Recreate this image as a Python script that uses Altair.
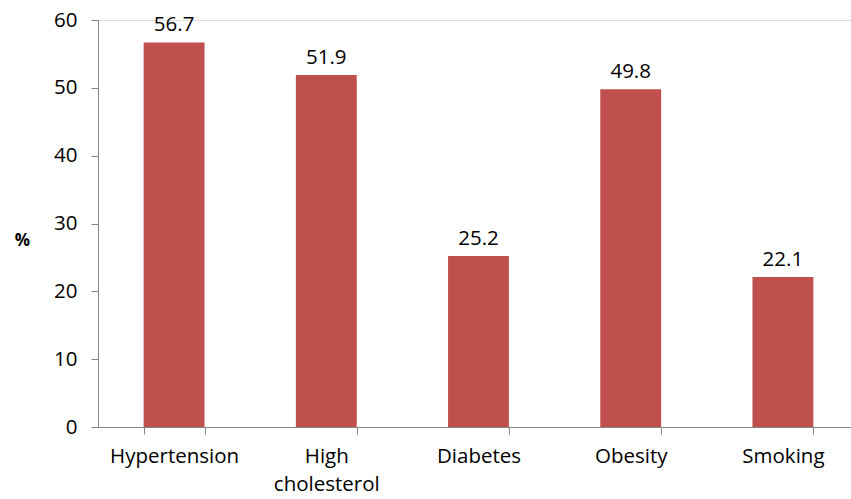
import altair as alt
import pandas as pd

categories = ["Hypertension", "High cholesterol", "Diabetes", "Obesity", "Smoking"]
values = [56.7, 51.9, 25.2, 49.8, 22.1]
labels = ["56.7", "51.9", "25.2", "49.8", "22.1"]

df = pd.DataFrame({"cat": categories, "val": values, "lab": labels})

FONT = "Open Sans"
AX = "#868686"
FS = 20.5

x = alt.X(
    "cat:N",
    sort=categories,
    title=None,
    scale=alt.Scale(range=[0, 761], paddingInner=0.6, paddingOuter=0.3),
    axis=alt.Axis(
        labelAngle=0,
        labelFont=FONT,
        labelFontSize=FS,
        labelColor="#000000",
        labelPadding=12,
        labelBaseline="top",
        labelLineHeight=28,
        labelExpr="datum.value == 'High cholesterol' ? ['High', 'cholesterol'] : datum.value",
        tickBand="extent",
        tickSize=7,
        tickColor=AX,
        domainColor=AX,
        grid=False,
    ),
)

bars = alt.Chart(df).mark_bar(color="#C0504D").encode(
    x=x,
    y=alt.Y(
        "val:Q",
        scale=alt.Scale(domain=[0, 60], nice=False),
        title="%",
        axis=alt.Axis(
            values=[0, 10, 20, 30, 40, 50, 60],
            labelFont=FONT,
            labelFontSize=FS,
            labelColor="#000000",
            labelPadding=14,
            tickSize=7,
            tickColor=AX,
            domainColor=AX,
            grid=False,
            titleAngle=0,
            titleFont=FONT,
            titleFontSize=17,
            titleFontWeight="bold",
            titleColor="#000000",
            titleX=-76,
            titleY=220,
            titleBaseline="middle",
            titleAlign="center",
        ),
    ),
)

text = alt.Chart(df).mark_text(
    font=FONT, fontSize=FS, color="#000000", baseline="alphabetic", dy=-11
).encode(x=alt.X("cat:N", sort=categories), y="val:Q", text="lab:N")

chart = (
    alt.layer(bars, text)
    .properties(
        width=753,
        height=407,
        autosize=alt.AutoSizeParams(type="none"),
        padding={"left": 98, "top": 20, "right": 0, "bottom": 72},
    )
    .configure_view(stroke=None)
    .configure(background="#ffffff")
)

chart.save("out.html", embed_options={"renderer": "svg", "actions": False})
